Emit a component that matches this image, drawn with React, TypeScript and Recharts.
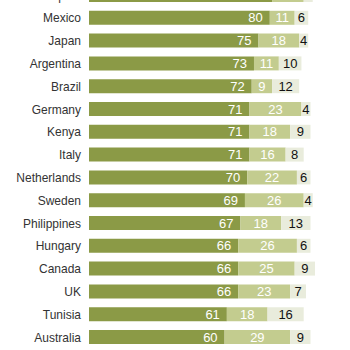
import { BarChart, Bar, XAxis, YAxis, LabelList } from 'recharts';

const countries = ['Spain', 'Mexico', 'Japan', 'Argentina', 'Brazil', 'Germany', 'Kenya', 'Italy', 'Netherlands', 'Sweden', 'Philippines', 'Hungary', 'Canada', 'UK', 'Tunisia', 'Australia'];
const darkValues = [81, 80, 75, 73, 72, 71, 71, 71, 70, 69, 67, 66, 66, 66, 61, 60];
const lightValues = [14, 11, 18, 11, 9, 23, 18, 16, 22, 26, 18, 26, 25, 23, 18, 29];
const paleValues = [4, 6, 4, 10, 12, 4, 9, 8, 6, 4, 13, 6, 9, 7, 16, 9];

const data = countries.map((country, i) => ({
  country,
  dark: darkValues[i],
  light: lightValues[i],
  pale: paleValues[i],
}));

const font = '"Liberation Sans", Arial, sans-serif';

const App = () => {
  return (
    <div style={{ position: 'fixed', left: 0, top: 0, width: 350, height: 350, overflow: 'hidden', background: '#fff' }}>
      <div style={{ position: 'absolute', left: 0, top: -16.2 }}>
        <BarChart
          width={350}
          height={364.8}
          data={data}
          layout="vertical"
          margin={{ top: 0, right: 35, bottom: 0, left: 0 }}
          barSize={14}
        >
          <XAxis type="number" domain={[0, 100]} hide />
          <YAxis
            type="category"
            dataKey="country"
            width={89}
            axisLine={false}
            tickLine={false}
            tick={{ fill: '#333', fontSize: 12, fontFamily: font }}
          />
          <Bar dataKey="dark" stackId="a" fill="#8b9a46" isAnimationActive={false}>
            <LabelList dataKey="dark" position="insideRight" offset={7} fill="#fff" fontSize={13} fontFamily={font} />
          </Bar>
          <Bar dataKey="light" stackId="a" fill="#c3cc8f" isAnimationActive={false}>
            <LabelList dataKey="light" position="center" fill="#fff" fontSize={13} fontFamily={font} />
          </Bar>
          <Bar dataKey="pale" stackId="a" fill="#e9ecdc" isAnimationActive={false}>
            <LabelList dataKey="pale" position="center" fill="#111" fontSize={13} fontFamily={font} />
          </Bar>
        </BarChart>
      </div>
    </div>
  );
};

export default App;
